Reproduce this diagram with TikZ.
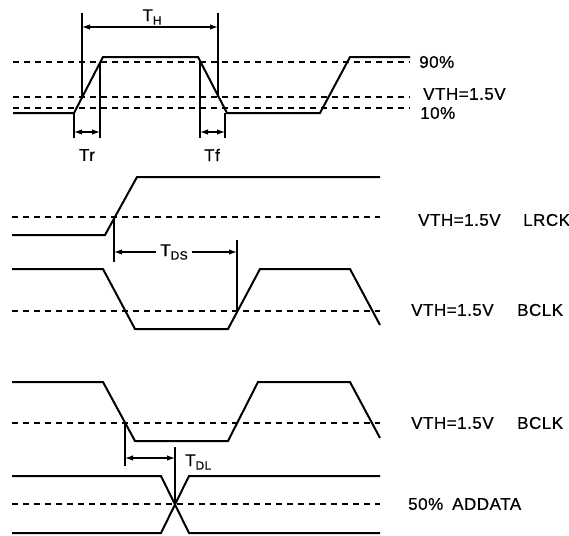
\documentclass[tikz,border=0pt]{standalone}
\usepackage{fontspec}
\setmainfont{Liberation Sans}[LetterSpace=3,FakeBold=0.6]
\usetikzlibrary{arrows.meta}
\newcommand\lsub[1]{\raisebox{-3.5pt}{\fontsize{12}{12}\selectfont #1}}
\begin{document}
\begin{tikzpicture}[x=1pt,y=-1pt,
  sig/.style={line width=2pt, line join=miter},
  thr/.style={line width=1.3pt, dash pattern=on 6pt off 5pt},
  ext/.style={line width=1.2pt},
  dimarr/.style={line width=1.2pt, {Latex[length=8pt,width=5.5pt]}-{Latex[length=8pt,width=5.5pt]}},
  lab/.style={font=\fontsize{17}{17}\selectfont, inner sep=0pt, anchor=west},
  tlab/.style={font=\fontsize{17}{17}\selectfont, inner sep=0pt}]
\useasboundingbox (0,0) rectangle (569,535);

% ---------------- top section ----------------
\coordinate (p90L) at (13,62);  \coordinate (p90R) at (410,62);
\coordinate (pvL) at (13,97);   \coordinate (pvR) at (410,97);
\coordinate (p10L) at (13,108); \coordinate (p10R) at (410,108);
\draw[thr] (p90L) -- (p90R);
\draw[thr] (pvL) -- (pvR);
\draw[thr] (p10L) -- (p10R);

\coordinate (s1) at (13,113);
\coordinate (s2) at (74,113);
\coordinate (s3) at (103,57);
\coordinate (s4) at (198,57);
\coordinate (s5) at (227,113);
\coordinate (s6) at (320,113);
\coordinate (s7) at (350,57);
\coordinate (s8) at (410,57);
\draw[sig] (s1) -- (s2) -- (s3) -- (s4) -- (s5) -- (s6) -- (s7) -- (s8);

% T_H
\coordinate (thA0) at (82,13);  \coordinate (thA1) at (82,97);
\coordinate (thB0) at (218,13); \coordinate (thB1) at (218,97);
\draw[ext] (thA0) -- (thA1);
\draw[ext] (thB0) -- (thB1);
\coordinate (thL) at (82,27); \coordinate (thR) at (218,27);
\draw[dimarr] (thL) -- (thR);
\node[tlab] (TH) at (152,17) {T\lsub{H}};

% Tr
\coordinate (trA0) at (74,113); \coordinate (trA1) at (74,138);
\coordinate (trB0) at (100,62); \coordinate (trB1) at (100,138);
\draw[ext] (trA0) -- (trA1);
\draw[ext] (trB0) -- (trB1);
\coordinate (trL) at (74,132); \coordinate (trR) at (100,132);
\draw[dimarr] (trL) -- (trR);
\node[tlab] (Tr) at (87,155) {Tr};

% Tf
\coordinate (tfA0) at (200,62); \coordinate (tfA1) at (200,138);
\coordinate (tfB0) at (225,113); \coordinate (tfB1) at (225,138);
\draw[ext] (tfA0) -- (tfA1);
\draw[ext] (tfB0) -- (tfB1);
\coordinate (tfL) at (200,132); \coordinate (tfR) at (225,132);
\draw[dimarr] (tfL) -- (tfR);
\node[tlab] (Tf) at (212,155) {Tf};

\node[lab] (l90) at (419,62) {90\%};
\node[lab] (lvth) at (423,94) {VTH=1.5V};
\node[lab] (l10) at (420,113) {10\%};

% ---------------- LRCK / BCLK ----------------
\coordinate (lrL) at (12,217); \coordinate (lrR) at (380,217);
\draw[thr] (lrL) -- (lrR);
\coordinate (r1) at (12,235);
\coordinate (r2) at (105,235);
\coordinate (r3) at (137,177);
\coordinate (r4) at (380,177);
\draw[sig] (r1) -- (r2) -- (r3) -- (r4);

\coordinate (bvL) at (12,311); \coordinate (bvR) at (380,311);
\draw[thr] (bvL) -- (bvR);
\coordinate (b1) at (12,269);
\coordinate (b2) at (103,269);
\coordinate (b3) at (135,329);
\coordinate (b4) at (228,329);
\coordinate (b5) at (260,269);
\coordinate (b6) at (350,269);
\coordinate (b7) at (380,325);
\draw[sig] (b1) -- (b2) -- (b3) -- (b4) -- (b5) -- (b6) -- (b7);

% T_DS
\coordinate (dsA0) at (114,217); \coordinate (dsA1) at (114,262);
\coordinate (dsB0) at (237,240); \coordinate (dsB1) at (237,311);
\draw[ext] (dsA0) -- (dsA1);
\draw[ext] (dsB0) -- (dsB1);
\coordinate (dsL) at (114,252); \coordinate (dsR) at (237,252);
\draw[dimarr] (dsL) -- (dsR);
\node[tlab, fill=white, inner xsep=4pt, inner ysep=2pt] (TDS) at (174,252) {T\lsub{DS}};

\node[lab] (lrv) at (418,220) {VTH=1.5V};
\node[lab] (lrn) at (523,220) {LRCK};
\node[lab] (b1v) at (411,310) {VTH=1.5V};
\node[lab] (b1n) at (517,310) {BCLK};

% ---------------- BCLK / ADDATA ----------------
\coordinate (cvL) at (12,423); \coordinate (cvR) at (380,423);
\draw[thr] (cvL) -- (cvR);
\coordinate (c1) at (12,382);
\coordinate (c2) at (103,382);
\coordinate (c3) at (135,441);
\coordinate (c4) at (228,441);
\coordinate (c5) at (258,382);
\coordinate (c6) at (350,382);
\coordinate (c7) at (380,438);
\draw[sig] (c1) -- (c2) -- (c3) -- (c4) -- (c5) -- (c6) -- (c7);

\coordinate (avL) at (12,504); \coordinate (avR) at (380,504);
\draw[thr] (avL) -- (avR);
\coordinate (d1) at (12,476);
\coordinate (d2) at (161,476);
\coordinate (d3) at (189,533);
\coordinate (d4) at (380,533);
\draw[sig] (d1) -- (d2) -- (d3) -- (d4);
\coordinate (e1) at (12,533);
\coordinate (e2) at (161,533);
\coordinate (e3) at (189,476);
\coordinate (e4) at (380,476);
\draw[sig] (e1) -- (e2) -- (e3) -- (e4);

% T_DL
\coordinate (dlA0) at (125,423); \coordinate (dlA1) at (125,466);
\coordinate (dlB0) at (175,447); \coordinate (dlB1) at (175,504);
\draw[ext] (dlA0) -- (dlA1);
\draw[ext] (dlB0) -- (dlB1);
\coordinate (dlL) at (125,458); \coordinate (dlR) at (175,458);
\draw[dimarr] (dlL) -- (dlR);
\node[tlab, anchor=west] (TDL) at (185,462) {T\lsub{DL}};

\node[lab] (b2v) at (411,423) {VTH=1.5V};
\node[lab] (b2n) at (517,423) {BCLK};
\node[lab] (a50) at (408,504) {50\%};
\node[lab] (aad) at (452,504) {ADDATA};
\end{tikzpicture}
\end{document}
